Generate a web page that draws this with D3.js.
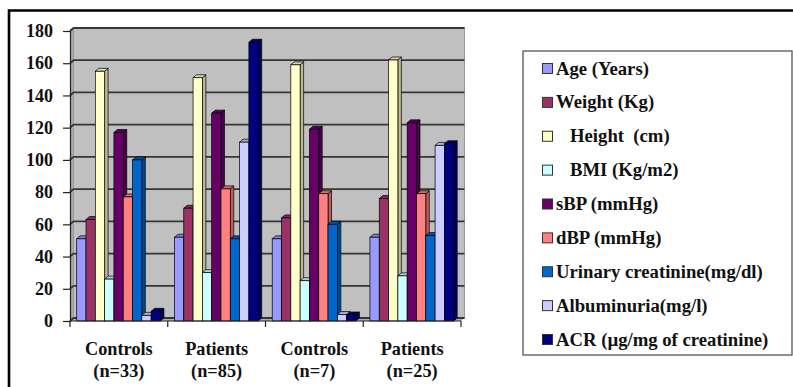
<!DOCTYPE html>
<html>
<head>
<meta charset="utf-8">
<script src="https://cdn.jsdelivr.net/npm/d3@7"></script>
</head>
<body style="margin:0">
<svg id="chart" width="793" height="387"></svg>
<script>
// Groups shown along the x axis (two text lines each)
const groups = ["Controls|(n=33)", "Patients|(n=85)", "Controls|(n=7)", "Patients|(n=25)"];

// Measured variables, one series per variable
const seriesNames = [
  "Age (Years)",
  "Weight (Kg)",
  "\u00a0\u00a0\u00a0Height\u00a0\u00a0(cm)",
  "\u00a0\u00a0\u00a0BMI (Kg/m2)",
  "sBP (mmHg)",
  "dBP (mmHg)",
  "Urinary creatinine(mg/dl)",
  "Albuminuria(mg/l)",
  "ACR (\u00b5g/mg of creatinine)"
];
const seriesColors = ["#9999FF", "#993366", "#FFFFCC", "#CCFFFF", "#660066", "#FF8080", "#0066CC", "#CCCCFF", "#000080"];

// Values per series, in group order
const age        = [51, 52, 51, 52];
const weight     = [63, 70, 64, 76];
const height     = [155, 151, 159, 162];
const bmi        = [26, 30, 25, 28];
const sbp        = [117, 129, 119, 123];
const dbp        = [77, 82, 79, 79];
const urinaryCr  = [100, 51, 60, 53];
const albumin    = [3.5, 111, 4, 109];
const acr        = [6, 173, 3.7, 110];
const seriesValues = [age, weight, height, bmi, sbp, dbp, urinaryCr, albumin, acr];

const yTicks = [0, 20, 40, 60, 80, 100, 120, 140, 160, 180];

const FONT = "Liberation Serif";
const INK = "#111";

const svg = d3.select("#chart");

// Serif bold label helper
function label(sel) {
  return sel.attr("font-family", FONT).attr("font-weight", "bold")
    .style("font-family", FONT).style("font-weight", "bold").attr("fill", INK);
}

// Outer frame (left and top edges)
svg.append("path")
  .attr("d", "M9,387 V10.5 H793")
  .attr("fill", "none").attr("stroke", "#000").attr("stroke-width", 2.6);

// Scales
const x = d3.scaleBand().domain(groups).range([70, 461]).paddingInner(0).paddingOuter(0);
const y = d3.scaleLinear().domain([0, 180]).range([321, 31]);
const xs = d3.scaleBand().domain(d3.range(seriesNames.length))
  .range([6.7, x.bandwidth() - 7.3]).padding(0);

const depthX = 3.5, depthY = -3;

// Back wall, side wall and floor of the 3D plot area
const wallL = x.range()[0] + depthX, wallR = x.range()[1] + depthX;
svg.append("path")
  .attr("d", `M${x.range()[0]},${y(0)} L${x.range()[0]},${y(180) - 1} L${wallL},${y(180) - 1 + depthY} L${wallL},${y(0) + depthY} Z`)
  .attr("fill", "#a9a9a9");
svg.append("rect")
  .attr("x", wallL).attr("y", y(180) + depthY)
  .attr("width", wallR - wallL).attr("height", y(0) - y(180))
  .attr("fill", "#c0c0c0").attr("stroke", "#9a9a9a").attr("stroke-width", 1);
svg.append("path")
  .attr("d", `M${x.range()[0]},${y(0)} L${wallL},${y(0) + depthY} L${wallR},${y(0) + depthY} L${x.range()[1]},${y(0)} Z`)
  .attr("fill", "#b0b0b0");

// Gridlines on the side and back wall
const grid = svg.append("g");
yTicks.forEach(t => {
  grid.append("path")
    .attr("d", `M${x.range()[0]},${y(t)} L${wallL},${y(t) + depthY} H${wallR}`)
    .attr("fill", "none").attr("stroke", "#363636").attr("stroke-width", 1.8);
});

// Bars drawn as 3D columns: side, top, then front face
const shade = (c, k) => d3.color(c).darker(k).formatHex();
const barsG = svg.append("g");
groups.forEach((g, gi) => {
  seriesValues.forEach((vals, si) => {
    const v = vals[gi];
    const x0 = x(g) + xs(si), w = xs.bandwidth();
    const y0 = y(0), y1 = y(v);
    const col = seriesColors[si];
    barsG.append("path")
      .attr("d", `M${x0 + w},${y1} L${x0 + w + depthX},${y1 + depthY} L${x0 + w + depthX},${y0 + depthY} L${x0 + w},${y0} Z`)
      .attr("fill", shade(col, 0.9)).attr("stroke", "#000").attr("stroke-width", 0.7);
    barsG.append("path")
      .attr("d", `M${x0},${y1} L${x0 + depthX},${y1 + depthY} L${x0 + w + depthX},${y1 + depthY} L${x0 + w},${y1} Z`)
      .attr("fill", shade(col, 0.5)).attr("stroke", "#000").attr("stroke-width", 0.7);
    barsG.append("rect")
      .attr("x", x0).attr("y", y1).attr("width", w).attr("height", y0 - y1)
      .attr("fill", col).attr("stroke", "#000").attr("stroke-width", 0.7);
  });
});

// Y axis
const yAxis = svg.append("g").attr("transform", `translate(${x.range()[0]},0)`)
  .call(d3.axisLeft(y).tickValues(yTicks).tickSize(7).tickPadding(10));
yAxis.attr("font-family", null).attr("font-size", null);
yAxis.select(".domain").attr("stroke", "#222").attr("stroke-width", 1.2);
yAxis.selectAll(".tick line").attr("stroke", "#222").attr("stroke-width", 1.2);
label(yAxis.selectAll(".tick text")).attr("font-size", 18).style("font-size", "18px");

// X axis: ticks on the group boundaries
const xAxisG = svg.append("g");
xAxisG.append("line")
  .attr("x1", x.range()[0]).attr("x2", x.range()[1])
  .attr("y1", y(0)).attr("y2", y(0))
  .attr("stroke", "#222").attr("stroke-width", 1.2);
const bounds = groups.map(g => x(g)).concat([x.range()[1]]);
xAxisG.selectAll("line.tk").data(bounds).enter().append("line")
  .attr("class", "tk")
  .attr("x1", d => d).attr("x2", d => d)
  .attr("y1", y(0)).attr("y2", y(0) + 6)
  .attr("stroke", "#222").attr("stroke-width", 1.2);
groups.forEach(g => {
  g.split("|").forEach((ln, i) => {
    label(xAxisG.append("text"))
      .attr("text-anchor", "middle").attr("font-size", 18.3).style("font-size", "18.3px")
      .attr("x", x(g) + x.bandwidth() / 2).attr("y", 355 + i * 21.5)
      .text(ln);
  });
});

// Legend
const legend = svg.append("g");
legend.append("rect")
  .attr("x", 523).attr("y", 51).attr("width", 269).attr("height", 304)
  .attr("fill", "#fff").attr("stroke", "#555").attr("stroke-width", 1.3);
const ly = d3.scalePoint().domain(seriesNames).range([68.5, 339.5]);
seriesNames.forEach((name, i) => {
  legend.append("rect")
    .attr("x", 542.5).attr("y", ly(name) - 5).attr("width", 10).attr("height", 10)
    .attr("fill", seriesColors[i]).attr("stroke", "#333").attr("stroke-width", 1);
  label(legend.append("text"))
    .attr("x", 556).attr("y", ly(name) + 6)
    .attr("font-size", 18.7).style("font-size", "18.7px")
    .text(name);
});
</script>
</body>
</html>
